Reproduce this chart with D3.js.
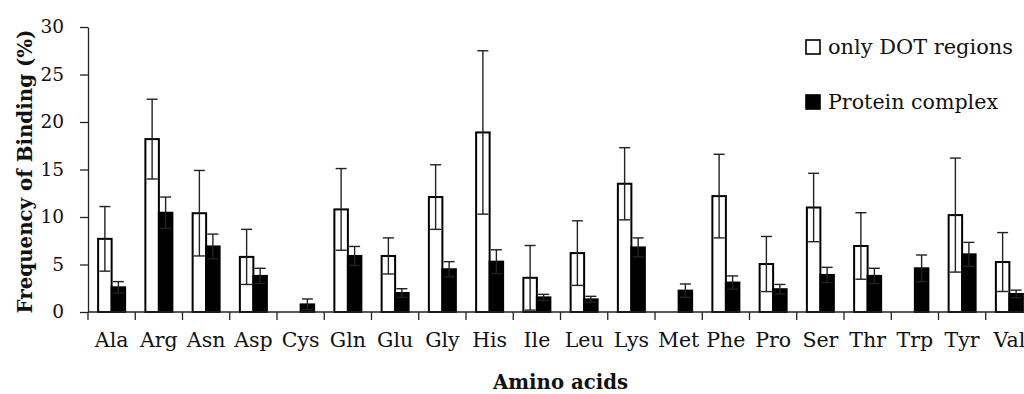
<!DOCTYPE html>
<html>
<head>
<meta charset="utf-8">
<script src="https://cdn.jsdelivr.net/npm/d3@7"></script>
<style>
  body { margin: 0; background: #fff; }
  svg { display: block; }
  svg text { font-family: "DejaVu Serif", "Liberation Serif", serif; fill: #111; }
</style>
</head>
<body>
<div id="chart"></div>
<script>
// amino acids along the x axis
const categories = ["Ala", "Arg", "Asn", "Asp", "Cys", "Gln", "Glu", "Gly", "His", "Ile",
                    "Leu", "Lys", "Met", "Phe", "Pro", "Ser", "Thr", "Trp", "Tyr", "Val"];

// "only DOT regions" series (white bars), mean and +/- error
const dotValues = [7.7, 18.2, 10.4, 5.8, 0, 10.8, 5.9, 12.1, 18.9, 3.6,
                   6.2, 13.5, 0, 12.2, 5.05, 11.0, 6.95, 0, 10.2, 5.26];
const dotErrors = [3.4, 4.2, 4.5, 2.9, 0, 4.3, 1.9, 3.4, 8.6, 3.4,
                   3.4, 3.8, 0, 4.4, 2.9, 3.6, 3.5, 0, 6.0, 3.1];

// "Protein complex" series (black bars)
const complexValues = [2.6, 10.45, 6.9, 3.8, 0.8, 5.9, 2.0, 4.5, 5.3, 1.54,
                       1.33, 6.8, 2.25, 3.1, 2.4, 3.9, 3.8, 4.6, 6.07, 1.9];
const complexErrors = [0.6, 1.65, 1.3, 0.8, 0.57, 1.0, 0.45, 0.8, 1.25, 0.32,
                       0.32, 1.0, 0.7, 0.7, 0.5, 0.8, 0.8, 1.4, 1.26, 0.4];

const seriesNames = ["only DOT regions", "Protein complex"];
const yTicks = [0, 5, 10, 15, 20, 25, 30];

const width = 1024, height = 394;
const marginLeft = 88, plotBottom = 312, plotTop = 27;
const band = 47.25;

const svg = d3.select("#chart").append("svg")
    .attr("width", width)
    .attr("height", height);

const x = d3.scaleBand()
    .domain(categories)
    .range([marginLeft, marginLeft + band * categories.length])
    .padding(0);

const x1 = d3.scaleBand()
    .domain(seriesNames)
    .range([0, 27]);

const y = d3.scaleLinear()
    .domain([0, 30])
    .range([plotBottom, plotTop]);

const offset = (x.bandwidth() - 27) / 2;

const rows = categories.map((c, i) => ({
    cat: c,
    values: [
        {key: seriesNames[0], v: dotValues[i], e: dotErrors[i]},
        {key: seriesNames[1], v: complexValues[i], e: complexErrors[i]}
    ]
}));

// bars
const groups = svg.append("g")
    .selectAll("g")
    .data(rows)
    .join("g")
    .attr("transform", d => `translate(${x(d.cat) + offset},0)`);

groups.selectAll("rect")
    .data(d => d.values.filter(v => v.v > 0))
    .join("rect")
    .attr("x", d => x1(d.key))
    .attr("width", x1.bandwidth())
    .attr("y", d => y(d.v))
    .attr("height", d => y(0) - y(d.v))
    .attr("fill", d => d.key === seriesNames[0] ? "#fff" : "#000")
    .attr("stroke", "#000")
    .attr("stroke-width", 2);

// error bars (up and down, the lower half shows inside the white bars)
const err = groups.selectAll("g.err")
    .data(d => d.values.filter(v => v.v > 0))
    .join("g")
    .attr("class", "err")
    .attr("stroke", "#222")
    .attr("stroke-width", 1.4);

const cx = d => x1(d.key) + x1.bandwidth() / 2;
err.append("line")
    .attr("x1", cx).attr("x2", cx)
    .attr("y1", d => y(d.v - d.e)).attr("y2", d => y(d.v + d.e));
err.append("line")
    .attr("x1", d => cx(d) - 5.5).attr("x2", d => cx(d) + 5.5)
    .attr("y1", d => y(d.v + d.e)).attr("y2", d => y(d.v + d.e));
err.append("line")
    .attr("x1", d => cx(d) - 5.5).attr("x2", d => cx(d) + 5.5)
    .attr("y1", d => y(d.v - d.e)).attr("y2", d => y(d.v - d.e));

// y axis
const yAxis = svg.append("g")
    .attr("transform", `translate(${marginLeft},0)`)
    .call(d3.axisLeft(y).tickValues(yTicks).tickSize(8).tickPadding(16).tickSizeOuter(0));
yAxis.attr("font-family", null).attr("font-size", null);
yAxis.select(".domain").attr("stroke", "#222").attr("stroke-width", 1.3);
yAxis.selectAll(".tick line").attr("stroke", "#222").attr("stroke-width", 1.3);
yAxis.selectAll("text")
    .style("font-size", "18.5px");

// x axis: labels centred in bands, ticks on band edges
const xAxis = svg.append("g")
    .attr("transform", `translate(0,${plotBottom})`)
    .call(d3.axisBottom(x).tickSize(0).tickPadding(20).tickSizeOuter(0));
xAxis.attr("font-family", null).attr("font-size", null);
xAxis.select(".domain").remove();
xAxis.selectAll("text")
    .style("font-size", "20.5px");

svg.append("line")
    .attr("x1", marginLeft).attr("x2", width)
    .attr("y1", plotBottom).attr("y2", plotBottom)
    .attr("stroke", "#222").attr("stroke-width", 1.3);

svg.append("g")
    .selectAll("line")
    .data(categories)
    .join("line")
    .attr("x1", d => x(d)).attr("x2", d => x(d))
    .attr("y1", plotBottom).attr("y2", plotBottom + 8)
    .attr("stroke", "#222").attr("stroke-width", 1.3);

// axis titles
svg.append("text")
    .attr("transform", `translate(32,${(plotTop + plotBottom) / 2 + 2}) rotate(-90)`)
    .attr("text-anchor", "middle")
    .style("font-weight", "bold")
    .style("font-size", "20px")
    .attr("textLength", 284)
    .attr("lengthAdjust", "spacingAndGlyphs")
    .text("Frequency of Binding (%)");

svg.append("text")
    .attr("x", (marginLeft + marginLeft + band * categories.length) / 2)
    .attr("y", 389)
    .attr("text-anchor", "middle")
    .style("font-weight", "bold")
    .style("font-size", "20px")
    .attr("textLength", 135)
    .attr("lengthAdjust", "spacingAndGlyphs")
    .text("Amino acids");

// legend
const legend = svg.append("g")
    .selectAll("g")
    .data(seriesNames)
    .join("g")
    .attr("transform", (d, i) => `translate(806,${40 + i * 55})`);

legend.append("rect")
    .attr("width", 14).attr("height", 14)
    .attr("fill", (d, i) => i === 0 ? "#fff" : "#000")
    .attr("stroke", "#000").attr("stroke-width", 1.6);

legend.append("text")
    .attr("x", 22)
    .attr("y", 14)
    .style("font-size", "20px")
    .attr("textLength", (d, i) => i === 0 ? 185 : 170)
    .attr("lengthAdjust", "spacingAndGlyphs")
    .text(d => d);
</script>
</body>
</html>
